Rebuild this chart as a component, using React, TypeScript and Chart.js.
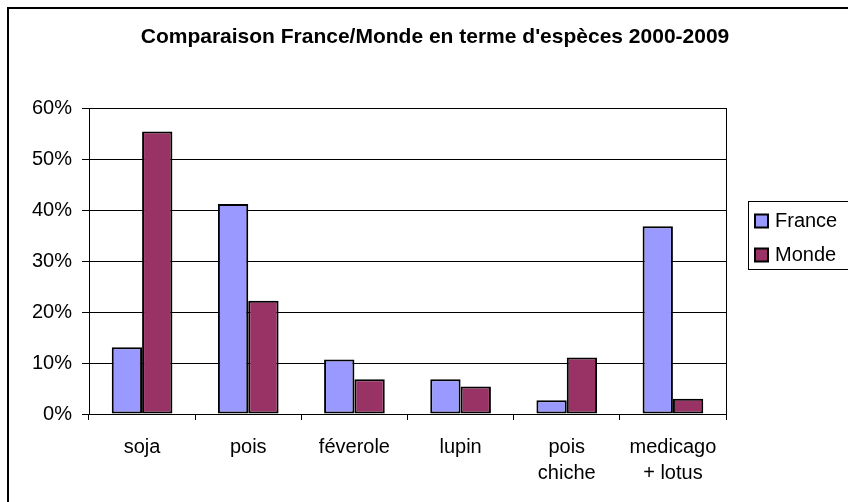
import React, { useEffect, useRef } from "react";
import { Chart, registerables } from "chart.js";

Chart.register(...registerables);

const TITLE = "Comparaison France/Monde en terme d'espèces 2000-2009";
const CATEGORIES: (string | string[])[] = [
  "soja",
  "pois",
  "féverole",
  "lupin",
  ["pois", "chiche"],
  ["medicago", "+ lotus"],
];
const FRANCE = [13.1, 41.2, 10.7, 6.8, 2.7, 36.8];
const MONDE = [55.4, 22.2, 6.8, 5.4, 11.1, 3.0];
const SERIES_NAMES = ["France", "Monde"];
const SERIES_COLORS = ["#9999FF", "#993366"];
const Y_MIN = 0;
const Y_MAX = 60;
const Y_STEP = 10;

const FONT = "'Liberation Sans', Arial, sans-serif";

const frame = {
  id: "frame",
  beforeDraw(chart: any) {
    const ctx = chart.ctx;
    ctx.save();
    ctx.fillStyle = "#fff";
    ctx.fillRect(0, 0, chart.width, chart.height);
    ctx.strokeStyle = "#000";
    ctx.lineWidth = 2;
    ctx.strokeRect(8, 8, chart.width + 20, chart.height + 20);
    // chart title
    ctx.fillStyle = "#000";
    ctx.font = `bold 21px ${FONT}`;
    ctx.textAlign = "center";
    ctx.textBaseline = "middle";
    ctx.fillText(TITLE, 435, 37);
    ctx.restore();
  },
  beforeDatasetsDraw(chart: any) {
    const { ctx, chartArea } = chart;
    ctx.save();
    ctx.strokeStyle = "#000";
    ctx.lineWidth = 1;
    ctx.strokeRect(
      Math.round(chartArea.left) + 0.5,
      Math.round(chartArea.top) + 0.5,
      Math.round(chartArea.right - chartArea.left),
      Math.round(chartArea.bottom - chartArea.top)
    );
    ctx.restore();
  },
  afterDraw(chart: any) {
    const { ctx, chartArea } = chart;
    const x0 = chartArea.right + 22;
    const y0 = 201;
    ctx.save();
    ctx.strokeStyle = "#000";
    ctx.lineWidth = 1;
    ctx.strokeRect(x0 + 0.5, y0 + 0.5, 200, 68);
    ctx.font = `20px ${FONT}`;
    ctx.textBaseline = "middle";
    ctx.textAlign = "left";
    chart.data.datasets.forEach((ds: any, i: number) => {
      const cy = y0 + 20 + i * 34;
      ctx.fillStyle = ds.backgroundColor;
      ctx.fillRect(x0 + 7, cy - 6.5, 13, 13);
      ctx.lineWidth = 2;
      ctx.strokeStyle = "#000";
      ctx.strokeRect(x0 + 7, cy - 6.5, 13, 13);
      ctx.fillStyle = "#000";
      ctx.fillText(ds.label, x0 + 27, cy);
    });
    ctx.restore();
  },
};

export default function App() {
  const ref = useRef<HTMLCanvasElement>(null);
  useEffect(() => {
    if (!ref.current) return;
    const chart = new Chart(ref.current, {
      type: "bar",
      data: {
        labels: CATEGORIES,
        datasets: [
          {
            label: SERIES_NAMES[0],
            data: FRANCE,
            backgroundColor: SERIES_COLORS[0],
            borderColor: "#000",
            borderWidth: 2,
            borderSkipped: false,
            categoryPercentage: 2 / 3.5,
            barPercentage: 1,
          },
          {
            label: SERIES_NAMES[1],
            data: MONDE,
            backgroundColor: SERIES_COLORS[1],
            borderColor: "#000",
            borderWidth: 2,
            borderSkipped: false,
            categoryPercentage: 2 / 3.5,
            barPercentage: 1,
          },
        ],
      },
      options: {
        responsive: false,
        animation: false,
        devicePixelRatio: 1,
        layout: { padding: { left: 0, right: 122, top: 108, bottom: 0 } },
        plugins: {
          legend: { display: false },
          tooltip: { enabled: false },
          title: { display: false },
        },
        scales: {
          x: {
            grid: {
              display: true,
              offset: true,
              drawOnChartArea: false,
              drawTicks: true,
              tickLength: 6,
              color: "#000",
            },
            border: { display: true, color: "#000", width: 1 },
            ticks: {
              color: "#000",
              font: { family: FONT, size: 20, lineHeight: 1.3 },
              padding: 14,
              maxRotation: 0,
              autoSkip: false,
            },
            afterFit(scale: any) {
              scale.height = 88;
            },
          },
          y: {
            min: Y_MIN,
            max: Y_MAX,
            grid: {
              color: "#000",
              lineWidth: 1,
              drawTicks: true,
              tickLength: 7,
            },
            border: { display: true, color: "#000", width: 1 },
            ticks: {
              stepSize: Y_STEP,
              color: "#000",
              font: { family: FONT, size: 20 },
              padding: 10,
              callback: (v: any) => `${v}%`,
            },
            afterFit(scale: any) {
              scale.width = 89;
            },
          },
        },
      },
      plugins: [frame],
    });
    return () => chart.destroy();
  }, []);
  return (
    <div style={{ position: "fixed", left: 0, top: 0, width: 848, height: 502, background: "#fff" }}>
      <canvas ref={ref} width={848} height={502} />
    </div>
  );
}
